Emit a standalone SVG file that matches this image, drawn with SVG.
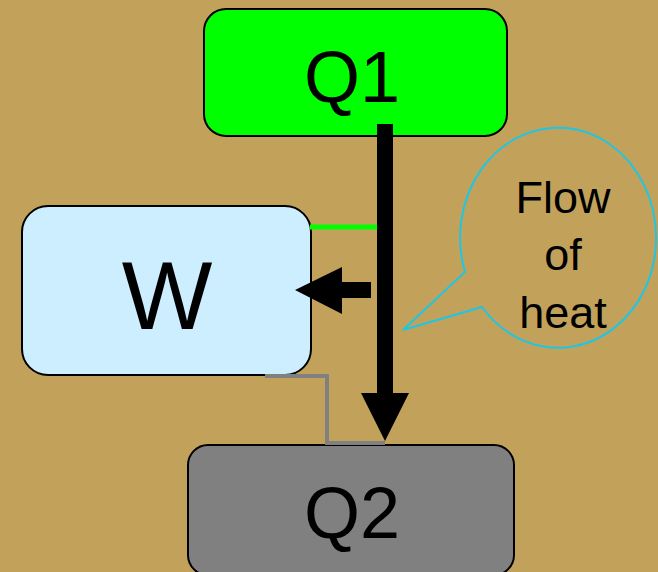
<svg xmlns="http://www.w3.org/2000/svg" width="658" height="572" viewBox="0 0 658 572">
<style>
.box{stroke:#000;stroke-width:2}
.lbl{font-family:"Liberation Sans",Arial,sans-serif;fill:#000;text-anchor:middle}
</style>
<rect x="0" y="0" width="658" height="572" fill="#C2A25A"/>
<g id="Q1"><rect class="box" x="204" y="9" width="303" height="127" rx="22" fill="#00FF00"/><text class="lbl" x="352" y="102" font-size="72">Q1</text></g>
<g id="W"><rect class="box" x="22" y="206" width="289" height="169" rx="26" fill="#CCEEFF"/><text class="lbl" x="167" y="329" font-size="96">W</text></g>
<g id="Q2"><rect class="box" x="188" y="445" width="326" height="130" rx="20" fill="#808080"/><text class="lbl" x="352" y="538" font-size="72">Q2</text></g>
<g id="callout"><path d="M465,272 A98,110 0 1 1 482,307 L403,330 Z" fill="none" stroke="#1EC6E6" stroke-width="2" stroke-linejoin="miter"/>
<text class="lbl" font-size="45"><tspan x="563" y="213">Flow</tspan><tspan x="563" y="270">of</tspan><tspan x="563" y="328">heat</tspan></text></g>
<g id="connectors">
<polyline points="265,376 327,376 327,443 385,443" fill="none" stroke="#808080" stroke-width="4"/>
<line x1="310" y1="227" x2="378" y2="227" stroke="#00FF00" stroke-width="5"/>
<polygon points="377,124 393,124 393,393 409,393 385,441 361,393 377,393" fill="#000"/>
<polygon points="371,282 342,282 342,267 295,290 342,314 342,298 371,298" fill="#000"/>
</g>
</svg>
